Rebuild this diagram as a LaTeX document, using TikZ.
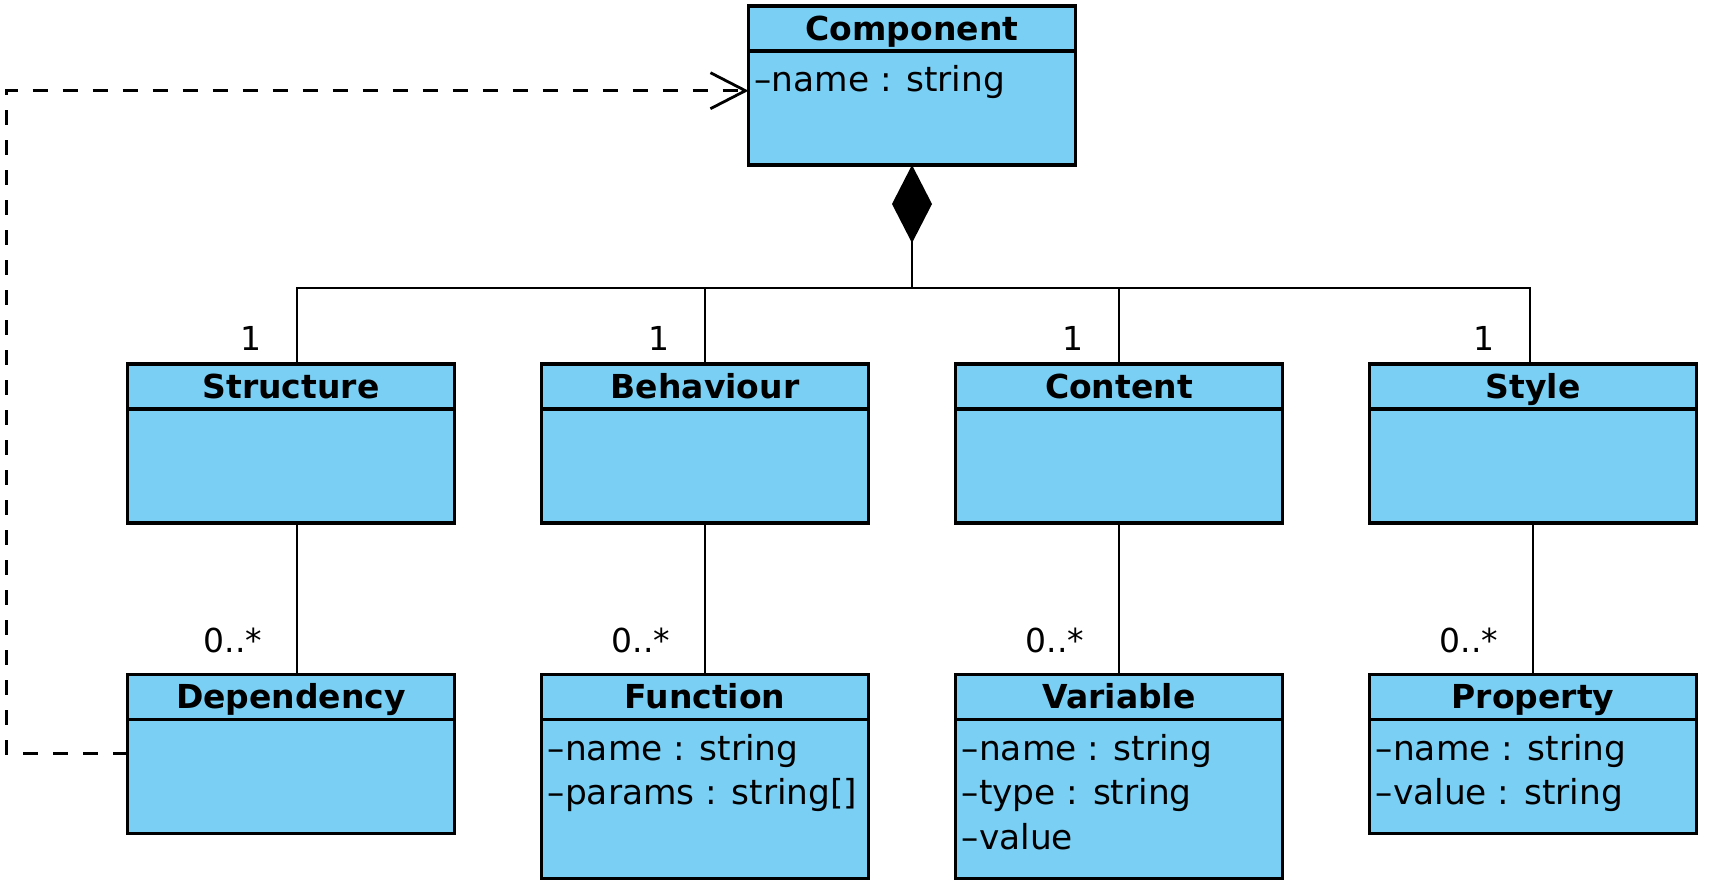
\documentclass[tikz,border=0pt]{standalone}
\usepackage{fontspec}
\setmainfont{DejaVu Sans}
\usepackage{tikz}
\usetikzlibrary{arrows.meta}
\definecolor{classblue}{RGB}{122,207,244}

\begin{document}
\begin{tikzpicture}
    \def\dx{207pt}
    \def\cx{145.5pt}
    \def\ty{-3pt}
    \def\ry{-182pt}
    \def\ly{-337.2pt}
    \def\hh{22.5pt}
    \def\ay{22.25pt}
    \def\ox{1.5*\dx}

    \useasboundingbox (0pt,0pt) rectangle (855pt,-445.5pt);

    \tikzstyle{classhead}=[draw=black,fill=classblue,line width=1.65pt,outer sep=0pt,minimum width=163.5pt,minimum height=22.5pt,text height=12pt,text depth=0pt,anchor=north,font=\fontsize{16.5pt}{19pt}\selectfont\bfseries]
    \tikzstyle{classbody}=[draw=black,fill=classblue,line width=1.65pt,outer sep=0pt,minimum width=163.5pt,anchor=north]
    \tikzstyle{attr}=[anchor=base west,inner sep=0pt,font=\fontsize{17.2pt}{20pt}\selectfont]
    \tikzstyle{mult}=[inner sep=0pt,font=\fontsize{16.5pt}{19pt}\selectfont]

    \node[classhead] (cmp) at (\cx+\ox,\ty) {Component};
    \node[classbody,minimum height=57pt] (cmpb) at (cmp.south) {};
    \node[attr] (cmpa1) at (\cx+\ox-79pt,\ty-\hh-20.4pt) {–name : string};

    \def\ox{0*\dx}

    \node[classhead] (str) at (\cx+\ox,\ry) {Structure};
    \node[classbody,minimum height=57pt] (strb) at (str.south) {};
    \node[mult] (str1) at (\cx+\ox-20pt,\ry+12.65pt) {1};

    \node[classhead] (dep) at (\cx+\ox,\ly) {Dependency};
    \node[classbody,minimum height=57pt] (depb) at (dep.south) {};
    \node[mult] (dep0) at (\cx+\ox-29pt,\ly+17.05pt) {0..*};

    \def\ox{1*\dx}

    \node[classhead] (beh) at (\cx+\ox,\ry) {Behaviour};
    \node[classbody,minimum height=57pt] (behb) at (beh.south) {};
    \node[mult] (beh1) at (\cx+\ox-23pt,\ry+12.65pt) {1};

    \node[classhead] (fun) at (\cx+\ox,\ly) {Function};
    \node[classbody,minimum height=79.5pt] (funb) at (fun.south) {};
    \node[mult] (fun0) at (\cx+\ox-32pt,\ly+17.05pt) {0..*};
    \node[attr] (funa1) at (\cx+\ox-78.75pt,\ly-\hh-20.4pt) {–name : string};
    \node[attr] (funa2) at (\cx+\ox-78.75pt,\ly-\hh-20.4pt-\ay) {–params : string[]};

    \def\ox{2*\dx}

    \node[classhead] (con) at (\cx+\ox,\ry) {Content};
    \node[classbody,minimum height=57pt] (conb) at (con.south) {};
    \node[mult] (con1) at (\cx+\ox-23pt,\ry+12.65pt) {1};

    \node[classhead] (var) at (\cx+\ox,\ly) {Variable};
    \node[classbody,minimum height=79.5pt] (varb) at (var.south) {};
    \node[mult] (var0) at (\cx+\ox-32pt,\ly+17.05pt) {0..*};
    \node[attr] (vara1) at (\cx+\ox-78.75pt,\ly-\hh-20.4pt) {–name : string};
    \node[attr] (vara2) at (\cx+\ox-78.75pt,\ly-\hh-20.4pt-\ay) {–type : string};
    \node[attr] (vara3) at (\cx+\ox-78.75pt,\ly-\hh-20.4pt-2*\ay) {–value};

    \def\ox{3*\dx}

    \node[classhead] (sty) at (\cx+\ox,\ry) {Style};
    \node[classbody,minimum height=57pt] (styb) at (sty.south) {};
    \node[mult] (sty1) at (\cx+\ox-24.5pt,\ry+12.65pt) {1};

    \node[classhead] (prp) at (\cx+\ox,\ly) {Property};
    \node[classbody,minimum height=57pt] (prpb) at (prp.south) {};
    \node[mult] (prp0) at (\cx+\ox-32pt,\ly+17.05pt) {0..*};
    \node[attr] (prpa1) at (\cx+\ox-78.75pt,\ly-\hh-20.4pt) {–name : string};
    \node[attr] (prpa2) at (\cx+\ox-78.75pt,\ly-\hh-20.4pt-\ay) {–value : string};

    \tikzstyle{assoc} = [draw=black, line width=1.35pt]
    \tikzstyle{depend} = [draw=black, line width=1.4pt, dash pattern=on 7.5pt off 7.5pt, -{Straight Barb[length=17.5pt,width=18pt]}]

    \coordinate (bus) at (\cx+1.5*\dx,-144pt);
    \coordinate (dtop) at (3.15pt,-45.35pt);
    \coordinate (dbot) at (3.15pt,-376.65pt);

    \draw [assoc,-{Diamond[length=39pt,width=20pt]}] (bus) -- (cmpb.south);
    \draw [assoc] ([xshift=3pt]str.north) |- (bus);
    \draw [assoc] (beh.north) -- (beh.north |- bus);
    \draw [assoc] (con.north) -- (con.north |- bus);
    \draw [assoc] ([xshift=-1.5pt]sty.north) |- (bus);

    \draw [assoc] ([xshift=3pt]strb.south) -- ([xshift=3pt]dep.north);
    \draw [assoc] (behb.south) -- (fun.north);
    \draw [assoc] (conb.south) -- (var.north);
    \draw [assoc] (styb.south) -- (prp.north);

    \draw [depend] (dbot -| depb.west) -- (dbot) -- (dtop) -- (dtop -| cmpb.west);

\end{tikzpicture}
\end{document}
